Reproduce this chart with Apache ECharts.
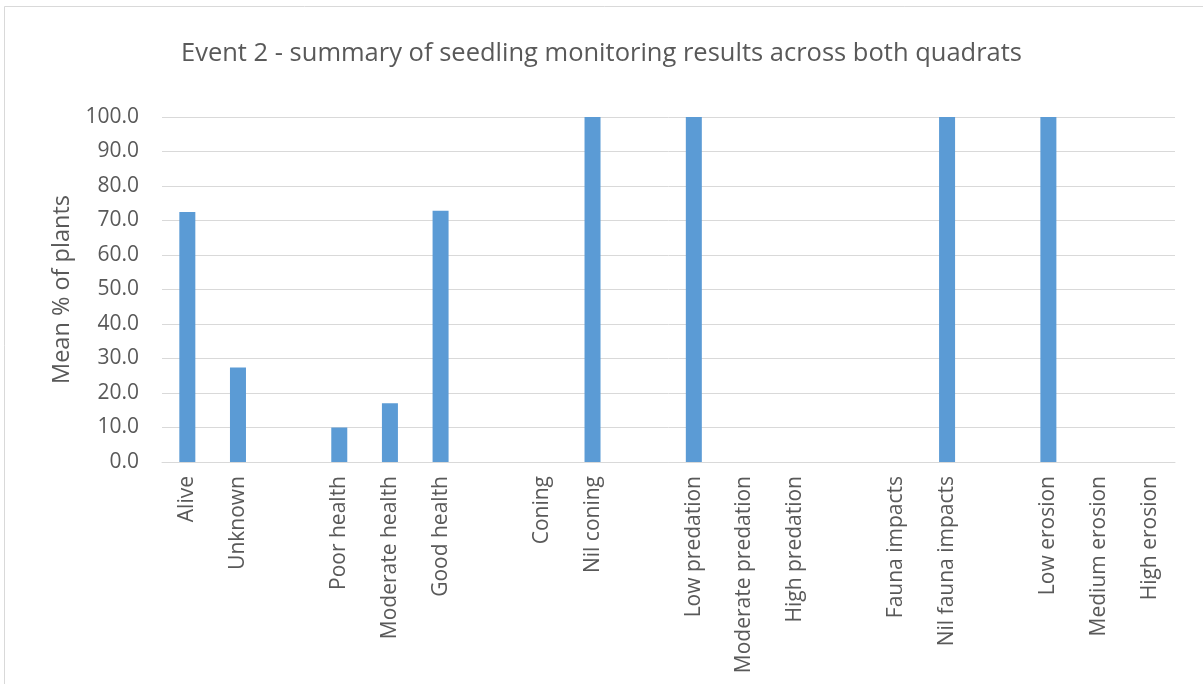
<!DOCTYPE html>
<html>
<head>
<meta charset="utf-8">
<script src="https://cdn.jsdelivr.net/npm/echarts@6/dist/echarts.min.js"></script>
<style>
  html, body { margin: 0; padding: 0; background: #fff; }
  #chart { width: 1203px; height: 684px; }
</style>
</head>
<body>
<div id="chart"></div>
<script>
// categories (blank entries are the gaps between groups)
const categories = [
  'Alive', 'Unknown', '',
  'Poor health', 'Moderate health', 'Good health', '',
  'Coning', 'Nil coning', '',
  'Low predation', 'Moderate predation', 'High predation', '',
  'Fauna impacts', 'Nil fauna impacts', '',
  'Low erosion', 'Medium erosion', 'High erosion'
]
const meanPercent = [
  72.5, 27.4, null,
  10.0, 17.0, 72.8, null,
  0, 100.0, null,
  100.0, 0, 0, null,
  0, 100.0, null,
  100.0, 0, 0
]
const yTicks = [0, 10, 20, 30, 40, 50, 60, 70, 80, 90, 100]

const textColor = '#595959'
const font = '"Open Sans", "Noto Sans", sans-serif'

const chart = echarts.init(document.getElementById('chart'))
chart.setOption({
  backgroundColor: '#fff',
  animation: false,
  textStyle: { fontFamily: font },
  graphic: [{
    type: 'rect',
    shape: { x: 4.5, y: 6.5, width: 1210, height: 700 },
    style: { fill: 'none', stroke: '#d9d9d9', lineWidth: 1 },
    silent: true
  }],
  title: {
    text: 'Event 2 - summary of seedling monitoring results across both quadrats',
    left: 'center',
    top: 36,
    textStyle: { color: textColor, fontSize: 25.5, fontWeight: 'normal', fontFamily: font }
  },
  grid: { left: 162, right: 28, top: 117, bottom: 222 },
  xAxis: {
    type: 'category',
    data: categories,
    axisLine: { lineStyle: { color: '#d9d9d9', width: 1 } },
    axisTick: { show: false },
    axisLabel: {
      rotate: 90,
      interval: 0,
      margin: 14,
      color: textColor,
      fontSize: 21,
      fontFamily: font
    }
  },
  yAxis: {
    type: 'value',
    min: yTicks[0],
    max: yTicks[yTicks.length - 1],
    interval: 10,
    name: 'Mean % of plants',
    nameLocation: 'middle',
    nameGap: 88,
    nameTextStyle: { color: textColor, fontSize: 23.5, fontFamily: font },
    axisLine: { show: false },
    axisTick: { show: false },
    splitLine: { lineStyle: { color: '#d9d9d9', width: 1 } },
    axisLabel: {
      margin: 23,
      color: textColor,
      fontSize: 21,
      fontFamily: font,
      formatter: v => v.toFixed(1)
    }
  },
  series: [{
    type: 'bar',
    data: meanPercent,
    barWidth: 16,
    itemStyle: { color: '#5b9bd5' }
  }]
})
</script>
</body>
</html>
